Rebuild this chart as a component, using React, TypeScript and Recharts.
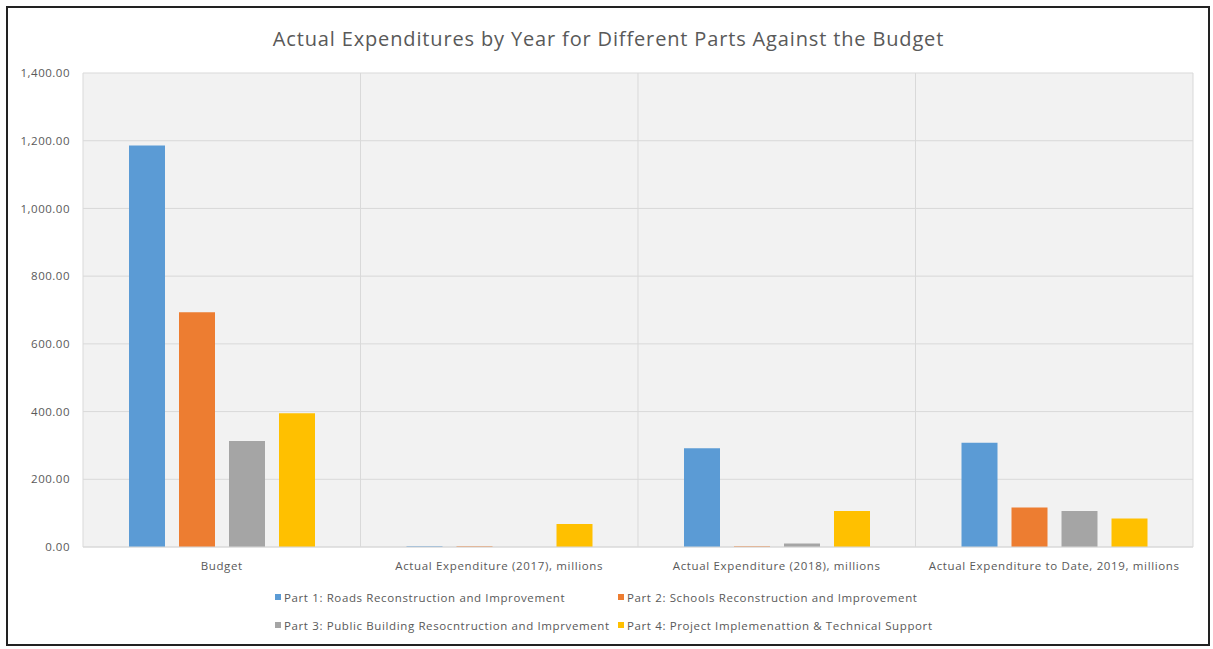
import { BarChart, Bar, XAxis, YAxis, CartesianGrid, Legend } from 'recharts';

const categories = [
  'Budget',
  'Actual Expenditure (2017), millions',
  'Actual Expenditure (2018), millions',
  'Actual Expenditure to Date, 2019, millions',
];

const part1 = [1186, 2, 292, 308];
const part2 = [693, 2, 2, 117];
const part3 = [313, 0, 10, 106];
const part4 = [395, 68, 106, 84];

const seriesNames = [
  'Part 1: Roads Reconstruction and Improvement',
  'Part 2: Schools Reconstruction and Improvement',
  'Part 3: Public Building Resocntruction and Imprvement',
  'Part 4: Project Implemenattion & Technical Support',
];

const seriesColors = ['#5b9bd5', '#ed7d31', '#a5a5a5', '#ffc000'];
const seriesKeys = ['p1', 'p2', 'p3', 'p4'];

const yTicks = [0, 200, 400, 600, 800, 1000, 1200, 1400];

const title = 'Actual Expenditures by Year for Different Parts Against the Budget';

const chartData = categories.map((name, i) => ({
  name,
  p1: part1[i],
  p2: part2[i],
  p3: part3[i],
  p4: part4[i],
}));

const FONT = '"Open Sans", Lato, sans-serif';
const TEXT = '#595959';

// excel draws category gridlines between the groups, not at their centres
const betweenCategories = ({ offset }: any) =>
  categories.map((_, i) => offset.left + (i * offset.width) / categories.length).concat(offset.left + offset.width);

function LegendRows() {
  // 2x2 like the excel legend
  const rows = [
    [0, 1],
    [2, 3],
  ];
  return (
    <div style={{ height: 62, paddingTop: 6, paddingLeft: 275, boxSizing: 'border-box', fontFamily: FONT }}>
      {rows.map((row, r) => (
        <div key={r} style={{ display: 'flex', height: 28, alignItems: 'center' }}>
          {row.map((idx, j) => (
            <div
              key={idx}
              style={{
                display: 'flex',
                alignItems: 'center',
                width: j === 0 ? 343 : undefined,
                flexShrink: 0,
                fontSize: 11.5,
                letterSpacing: 0.62,
                color: TEXT,
                whiteSpace: 'nowrap',
              }}
            >
              <span style={{ width: 6, height: 6, flexShrink: 0, background: seriesColors[idx], marginRight: 3 }} />
              {seriesNames[idx]}
            </div>
          ))}
        </div>
      ))}
    </div>
  );
}

const tickStyle = { fontSize: 11.5, fill: TEXT, fontFamily: FONT, letterSpacing: 0.65 };

export default function App() {
  return (
    <div style={{ position: 'absolute', left: 0, top: 0, width: 1213, height: 649, background: '#fff' }}>
      <div
        style={{
          position: 'absolute',
          left: 6,
          top: 6,
          width: 1204,
          height: 640,
          border: '2px solid #222',
          boxSizing: 'border-box',
        }}
      />
      <div
        style={{
          position: 'absolute',
          top: 25,
          left: 2,
          width: 1213,
          textAlign: 'center',
          fontFamily: FONT,
          fontSize: 20,
          letterSpacing: 0.85,
          color: TEXT,
        }}
      >
        {title}
      </div>
      <BarChart
        width={1213}
        height={649}
        data={chartData}
        margin={{ top: 73, right: 20, left: 23, bottom: 10 }}
        barSize={36}
        barGap={14}
      >
        <CartesianGrid fill="#f2f2f2" stroke="#d9d9d9" verticalCoordinatesGenerator={betweenCategories} />
        <XAxis
          dataKey="name"
          interval={0}
          height={30}
          axisLine={{ stroke: '#d9d9d9' }}
          tickLine={false}
          tickMargin={9}
          tick={tickStyle}
        />
        <YAxis
          width={60}
          domain={[0, 1400]}
          ticks={yTicks}
          axisLine={false}
          tickLine={false}
          tickSize={0}
          tickMargin={13}
          tickFormatter={(v: number) =>
            v.toLocaleString('en-US', { minimumFractionDigits: 2, maximumFractionDigits: 2 })
          }
          tick={{ ...tickStyle, letterSpacing: 0.5 }}
        />
        <Legend verticalAlign="bottom" content={() => <LegendRows />} wrapperStyle={{ left: 0, width: 1213 }} />
        {seriesKeys.map((key, i) => (
          <Bar key={key} dataKey={key} name={seriesNames[i]} fill={seriesColors[i]} isAnimationActive={false} />
        ))}
      </BarChart>
    </div>
  );
}
